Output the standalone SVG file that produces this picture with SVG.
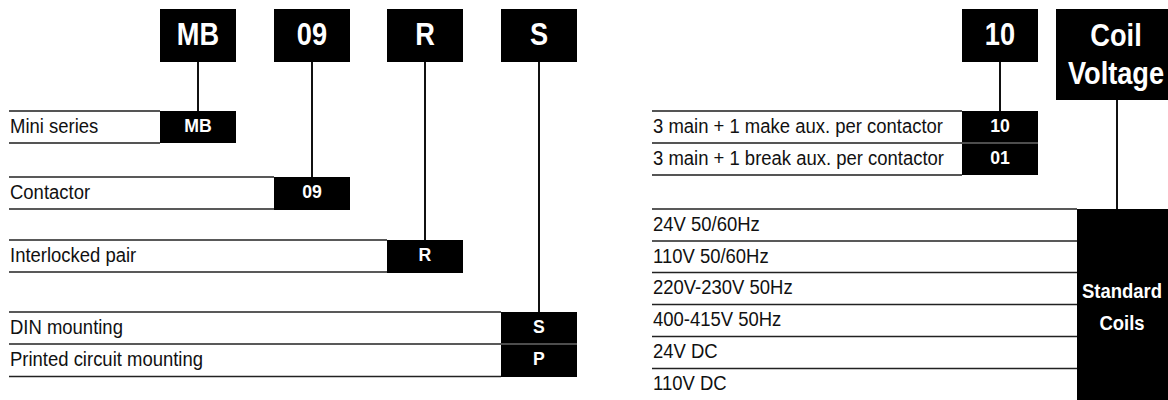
<svg xmlns="http://www.w3.org/2000/svg" width="1168" height="400" viewBox="0 0 1168 400">
<style>
.bx{fill:#000}
.hd{font-family:"Liberation Sans",Arial,sans-serif;font-weight:bold;font-size:32px;fill:#fff;text-anchor:middle}
.sm{font-family:"Liberation Sans",Arial,sans-serif;font-weight:bold;font-size:19px;fill:#fff;text-anchor:middle}
.sc{font-family:"Liberation Sans",Arial,sans-serif;font-weight:bold;font-size:21px;fill:#fff;text-anchor:middle}
.lb{font-family:"Liberation Sans",Arial,sans-serif;font-size:21px;fill:#111}
.rl{stroke:#222;stroke-width:1.3;fill:none}
.rg{stroke:#555;stroke-width:2;fill:none}
.sep{stroke:#9a9a9a;stroke-width:1;fill:none}
.cn{stroke:#111;stroke-width:2;fill:none}
</style>

<g id="connectors">
<line class="cn" x1="198" y1="62" x2="198" y2="111"/>
<line class="cn" x1="312" y1="62" x2="312" y2="177"/>
<line class="cn" x1="425" y1="62" x2="425" y2="240"/>
<line class="cn" x1="539" y1="62" x2="539" y2="312"/>
<line class="cn" x1="1000" y1="62" x2="1000" y2="111"/>
<line class="cn" x1="1117" y1="100" x2="1117" y2="209"/>
</g>

<g id="hdr-MB"><rect class="bx" x="160" y="9" width="76" height="53"/><text class="hd" transform="translate(198,45) scale(0.85,1)">MB</text></g>
<g id="hdr-09"><rect class="bx" x="274" y="9" width="76" height="53"/><text class="hd" transform="translate(312,45) scale(0.85,1)">09</text></g>
<g id="hdr-R"><rect class="bx" x="387" y="9" width="76" height="53"/><text class="hd" transform="translate(425,45) scale(0.85,1)">R</text></g>
<g id="hdr-S"><rect class="bx" x="501" y="9" width="76" height="53"/><text class="hd" transform="translate(539,45) scale(0.85,1)">S</text></g>
<g id="hdr-10"><rect class="bx" x="962" y="9" width="76" height="53"/><text class="hd" transform="translate(1000,45) scale(0.85,1)">10</text></g>
<g id="hdr-coil"><rect class="bx" x="1056" y="9" width="112" height="91"/><text class="hd" transform="translate(1116,46) scale(0.85,1)">Coil</text><text class="hd" transform="translate(1116,84) scale(0.85,1)">Voltage</text></g>

<g id="row-mini">
<line class="rg" x1="9" y1="111" x2="160" y2="111"/><line class="rg" x1="9" y1="143" x2="160" y2="143"/>
<rect class="bx" x="160" y="111" width="76" height="32"/>
<text class="lb" transform="translate(10,132.5) scale(0.88,1)">Mini series</text>
<text class="sm" transform="translate(198,131.8) scale(0.93,1)">MB</text>
</g>
<g id="row-contactor">
<line class="rl" x1="9" y1="177" x2="274" y2="177"/><line class="rl" x1="9" y1="209" x2="274" y2="209"/>
<rect class="bx" x="274" y="177" width="76" height="33"/>
<text class="lb" transform="translate(10,198.5) scale(0.88,1)">Contactor</text>
<text class="sm" transform="translate(312,197.8) scale(0.93,1)">09</text>
</g>
<g id="row-interlocked">
<line class="rl" x1="9" y1="240" x2="387" y2="240"/><line class="rl" x1="9" y1="272" x2="387" y2="272"/>
<rect class="bx" x="387" y="240" width="76" height="33"/>
<text class="lb" transform="translate(10,261.5) scale(0.88,1)">Interlocked pair</text>
<text class="sm" transform="translate(425,260.8) scale(0.93,1)">R</text>
</g>
<g id="row-din">
<line class="rl" x1="9" y1="312" x2="501" y2="312"/><line class="rl" x1="9" y1="344" x2="501" y2="344"/>
<rect class="bx" x="501" y="312" width="76" height="32"/>
<text class="lb" transform="translate(10,333.5) scale(0.88,1)">DIN mounting</text>
<text class="sm" transform="translate(539,332.8) scale(0.93,1)">S</text>
</g>
<g id="row-pcb">
<line class="rl" x1="9" y1="376.5" x2="501" y2="376.5"/>
<rect class="bx" x="501" y="344" width="76" height="33"/>
<line class="sep" x1="501" y1="344" x2="577" y2="344"/>
<text class="lb" transform="translate(10,365.5) scale(0.88,1)">Printed circuit mounting</text>
<text class="sm" transform="translate(539,364.8) scale(0.93,1)">P</text>
</g>

<g id="row-make">
<line class="rg" x1="652" y1="111" x2="962" y2="111"/><line class="rg" x1="652" y1="143" x2="962" y2="143"/>
<rect class="bx" x="962" y="111" width="76" height="32"/>
<text class="lb" transform="translate(653,132.5) scale(0.88,1)">3 main + 1 make aux. per contactor</text>
<text class="sm" transform="translate(1000,131.8) scale(0.93,1)">10</text>
</g>
<g id="row-break">
<line class="rg" x1="652" y1="175" x2="962" y2="175"/>
<rect class="bx" x="962" y="143" width="76" height="32"/>
<line class="sep" x1="962" y1="143" x2="1038" y2="143"/>
<text class="lb" transform="translate(653,164.5) scale(0.88,1)">3 main + 1 break aux. per contactor</text>
<text class="sm" transform="translate(1000,163.8) scale(0.93,1)">01</text>
</g>

<g id="coil-rows">
<line class="rl" x1="652" y1="209" x2="1077" y2="209"/>
<line class="rl" x1="652" y1="241" x2="1077" y2="241"/>
<line class="rl" x1="652" y1="272.5" x2="1077" y2="272.5"/>
<line class="rl" x1="652" y1="304.5" x2="1077" y2="304.5"/>
<line class="rl" x1="652" y1="336.5" x2="1077" y2="336.5"/>
<line class="rl" x1="652" y1="368.5" x2="1077" y2="368.5"/>
<text class="lb" transform="translate(653,230.5) scale(0.88,1)">24V 50/60Hz</text>
<text class="lb" transform="translate(653,262.5) scale(0.88,1)">110V 50/60Hz</text>
<text class="lb" transform="translate(653,294) scale(0.88,1)">220V-230V 50Hz</text>
<text class="lb" transform="translate(653,326) scale(0.88,1)">400-415V 50Hz</text>
<text class="lb" transform="translate(653,358) scale(0.88,1)">24V DC</text>
<text class="lb" transform="translate(653,390) scale(0.88,1)">110V DC</text>
</g>
<g id="std-coils">
<rect class="bx" x="1077" y="209" width="91" height="191"/>
<text class="sc" transform="translate(1122,297.5) scale(0.88,1)">Standard</text>
<text class="sc" transform="translate(1122,329.5) scale(0.88,1)">Coils</text>
</g>
</svg>
